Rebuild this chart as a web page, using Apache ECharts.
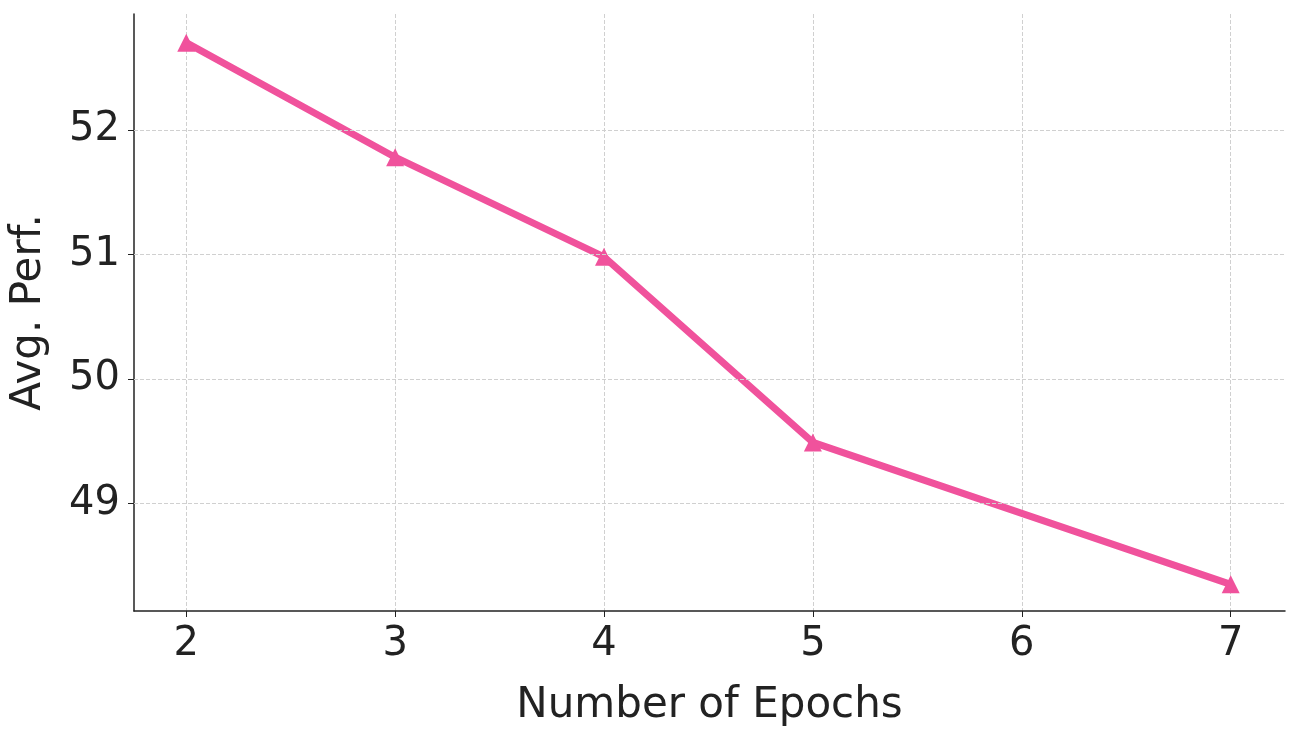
<!DOCTYPE html>
<html><head><meta charset="utf-8">
<script src="https://cdn.jsdelivr.net/npm/echarts@6/dist/echarts.min.js"></script>
<style>html,body{margin:0;padding:0;background:#fff}#c{width:1298px;height:732px}</style>
</head><body><div id="c"></div>
<script>
const epochs = [2, 3, 4, 5, 7];
const perf = [52.70, 51.78, 50.98, 49.49, 48.35];
const xTicks = [2, 3, 4, 5, 6, 7];
const yTicks = [49, 50, 51, 52];
const chart = echarts.init(document.getElementById('c'));
const font = 'DejaVu Sans';
chart.setOption({
  animation: false,
  grid: {left: 132, right: 13, top: 14, bottom: 119},
  xAxis: {
    type: 'value', min: 1.75, max: 7.26, interval: 1,
    name: 'Number of Epochs', nameLocation: 'middle', nameGap: 74,
    nameTextStyle: {fontFamily: font, fontSize: 42, color: '#222'},
    axisLine: {lineStyle: {color: '#222', width: 1.5}},
    axisTick: {show: true, length: 6, lineStyle: {color: '#222'}, customValues: xTicks},
    axisLabel: {fontFamily: font, fontSize: 40, color: '#222', margin: 14, customValues: xTicks},
    splitLine: {show: true, lineStyle: {type: 'dashed', color: '#d0d0d0'}}
  },
  yAxis: {
    type: 'value', min: 48.136, max: 52.93,
    name: 'Avg. Perf.', nameLocation: 'middle', nameGap: 84,
    nameTextStyle: {fontFamily: font, fontSize: 42, color: '#222'},
    axisLine: {show: true, lineStyle: {color: '#222', width: 1.5}},
    axisTick: {show: true, length: 6, lineStyle: {color: '#222'}, customValues: yTicks},
    axisLabel: {fontFamily: font, fontSize: 40, color: '#222', margin: 14, customValues: yTicks},
    splitLine: {show: false}
  },
  series: [{
    type: 'line',
    data: epochs.map((e, i) => [e, perf[i]]),
    symbol: 'triangle', symbolSize: 18,
    lineStyle: {color: '#F0529C', width: 7},
    itemStyle: {color: '#F0529C'}
  }, {
    type: 'line', data: [], markLine: {
      silent: true, symbol: 'none', label: {show: false},
      lineStyle: {type: 'dashed', color: '#d0d0d0', width: 1},
      data: yTicks.map(v => ({yAxis: v}))
    }
  }]
});
</script></body></html>
